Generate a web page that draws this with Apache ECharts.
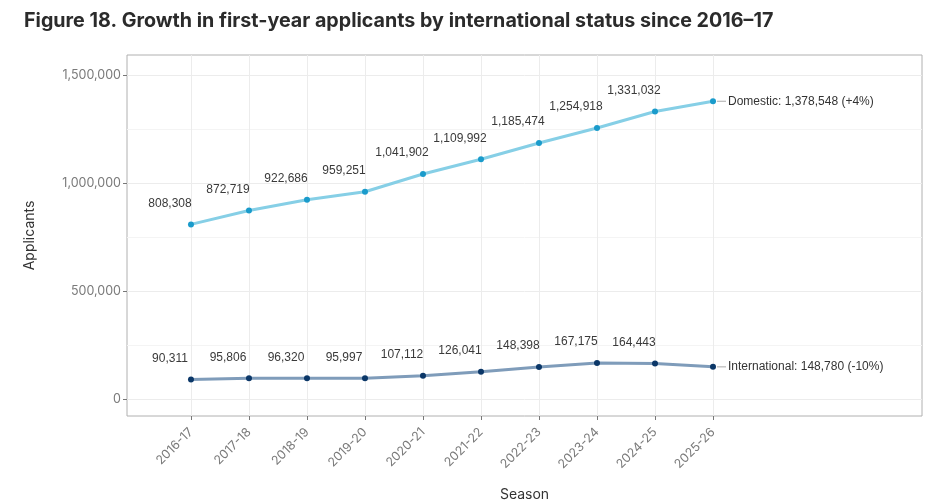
<!DOCTYPE html>
<html>
<head>
<meta charset="utf-8">
<style>
  html, body { margin: 0; padding: 0; background: #fff; }
  #chart { width: 949px; height: 501px; }
</style>
<script src="https://cdn.jsdelivr.net/npm/echarts@6.0.0/dist/echarts.min.js"></script>
</head>
<body>
<div id="chart"></div>
<script>
var seasons = ['2016-17', '2017-18', '2018-19', '2019-20', '2020-21',
               '2021-22', '2022-23', '2023-24', '2024-25', '2025-26'];
var domestic = [808308, 872719, 922686, 959251, 1041902, 1109992, 1185474, 1254918, 1331032, 1378548];
var international = [90311, 95806, 96320, 95997, 107112, 126041, 148398, 167175, 164443, 148780];
var endNotes = ['Domestic: 1,378,548 (+4%)', 'International: 148,780 (-10%)'];
var yTicks = [0, 500000, 1000000, 1500000];
var yMinor = [250000, 750000, 1250000];

var fmt = function (v) { return v.toLocaleString('en-US'); };
var idx = seasons.map(function (s, i) { return i; });

function pairs(arr) {
    return arr.map(function (v, i) { return [i, v]; });
}

function makeSeries(name, values, lineColor, dotColor, note) {
    return {
        name: name,
        type: 'line',
        data: pairs(values),
        symbol: 'circle',
        symbolSize: 6,
        lineStyle: { color: lineColor, width: 3 },
        itemStyle: { color: dotColor },
        label: {
            show: true,
            position: 'top',
            distance: 12,
            offset: [-21, 0],
            color: '#3a3a3a',
            fontFamily: 'Liberation Sans',
            fontSize: 12,
            formatter: function (p) {
                return p.dataIndex === values.length - 1 ? '' : fmt(p.value[1]);
            }
        },
        endLabel: {
            show: true,
            distance: 4,
            formatter: '{l|}{t|' + note + '}',
            rich: {
                l: { width: 9, height: 1, backgroundColor: '#aaa' },
                t: { color: '#333', fontFamily: 'Liberation Sans', fontSize: 12, padding: [0, 0, 0, 2] }
            }
        },
        emphasis: { disabled: true },
        animation: false
    };
}

var chart = echarts.init(document.getElementById('chart'));
var option = {
    animation: false,
    title: {
        text: 'Figure 18. Growth in first-year applicants by international status since 2016\u201317',
        left: 19,
        top: 6,
        textStyle: { fontFamily: 'Inter', fontWeight: 'bold', fontSize: 19.7, color: '#2b2b2b' }
    },
    grid: {
        left: 127, right: 27, top: 55, bottom: 85,
        outerBoundsMode: 'none',
        containLabel: false,
        show: true, borderColor: '#b0b0b0', borderWidth: 1
    },
    xAxis: {
        type: 'value',
        min: -1.103,
        max: 12.603,
        name: 'Season',
        nameLocation: 'middle',
        nameGap: 72,
        nameTextStyle: { fontFamily: 'Inter', fontSize: 14, color: '#333' },
        axisLine: { show: false, onZero: false },
        axisTick: { show: true, customValues: idx, length: 4, lineStyle: { color: '#777' } },
        axisLabel: {
            customValues: idx,
            rotate: 45,
            margin: 14,
            color: '#7a7a7a',
            fontFamily: 'Inter',
            fontSize: 12.5,
            formatter: function (v) { return seasons[v]; }
        },
        splitLine: { show: true, lineStyle: { color: '#ececec' } }
    },
    yAxis: [{
        type: 'value',
        min: -78704,
        max: 1592600,
        name: 'Applicants',
        nameLocation: 'middle',
        nameGap: 90,
        nameTextStyle: { fontFamily: 'Inter', fontSize: 14, color: '#333' },
        axisLine: { show: false, onZero: false },
        axisTick: { show: true, customValues: yTicks, length: 4, lineStyle: { color: '#777' } },
        axisLabel: {
            customValues: yTicks,
            margin: 6,
            color: '#7a7a7a',
            fontFamily: 'Inter',
            fontSize: 12.5,
            formatter: fmt
        },
        splitLine: { show: true, lineStyle: { color: '#ececec' } }
    }, {
        type: 'value',
        min: -78704,
        max: 1592600,
        position: 'left',
        axisLine: { show: false, onZero: false },
        axisTick: { show: false, customValues: yMinor },
        axisLabel: { show: false, customValues: yMinor },
        splitLine: { show: true, lineStyle: { color: '#f4f4f4' } }
    }],
    series: [
        makeSeries('Domestic', domestic, '#86cfe6', '#1a9bcb', endNotes[0]),
        makeSeries('International', international, '#7f9cba', '#0b3768', endNotes[1])
    ]
};
chart.setOption(option);
</script>
</body>
</html>
